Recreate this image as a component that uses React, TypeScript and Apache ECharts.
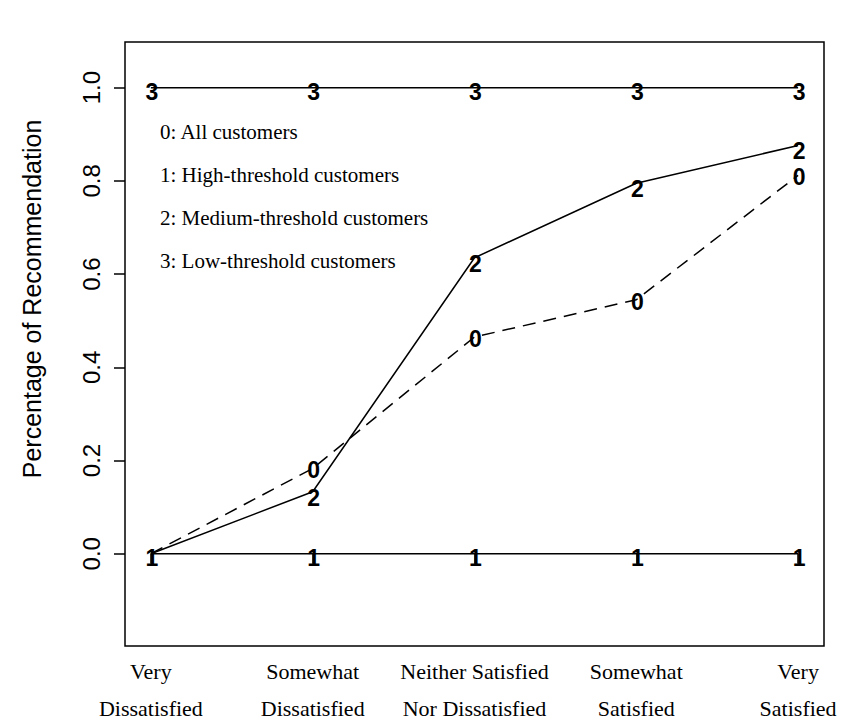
import React, { useEffect, useRef } from "react";
import * as echarts from "echarts";

const categories = [
  "Very\nDissatisfied",
  "Somewhat\nDissatisfied",
  "Neither Satisfied\nNor Dissatisfied",
  "Somewhat\nSatisfied",
  "Very\nSatisfied",
];
const xPositions = [1, 2, 3, 4, 5];
const allCustomers = [0, 0.183, 0.465, 0.545, 0.812];
const highThreshold = [0, 0, 0, 0, 0];
const mediumThreshold = [0, 0.133, 0.635, 0.795, 0.876];
const lowThreshold = [1, 1, 1, 1, 1];
const yTicks = [0, 0.2, 0.4, 0.6, 0.8, 1.0];
const yTitle = "Percentage of Recommendation";
const legendLines = [
  "0: All customers",
  "1: High-threshold customers",
  "2: Medium-threshold customers",
  "3: Low-threshold customers",
];

const SANS = "'Liberation Sans', Arial, Helvetica, sans-serif";
const SERIF = "'Liberation Serif', 'Times New Roman', serif";

function makeSeries(
  name: string,
  values: number[],
  dashed: boolean,
  hideFirstLabel: boolean,
  dy: number
) {
  return {
    type: "line",
    name,
    symbol: "circle",
    symbolSize: 1,
    itemStyle: { color: "rgba(0,0,0,0)" },
    lineStyle: { color: "#000", width: 1.5, type: dashed ? [13, 8] : "solid" },
    label: {
      show: true,
      formatter: name,
      position: "inside",
      offset: [1, dy],
      fontFamily: SANS,
      fontWeight: "bold",
      fontSize: 23,
      lineHeight: 18,
      color: "#000",
    },
    data: values.map((v, i) =>
      hideFirstLabel && i === 0
        ? { value: [xPositions[i], v], label: { show: false } }
        : { value: [xPositions[i], v] }
    ),
    z: 3,
  };
}

export default function App() {
  const ref = useRef<HTMLDivElement>(null);
  useEffect(() => {
    if (!ref.current) return;
    const chart = echarts.init(ref.current, undefined, { renderer: "svg" });
    const option = {
      animation: false,
      backgroundColor: "#fff",
      grid: {
        left: 125,
        right: 33,
        top: 42,
        bottom: 69,
        show: true,
        borderColor: "#000",
        borderWidth: 1.5,
        backgroundColor: "rgba(0,0,0,0)",
        containLabel: false,
      },
      xAxis: {
        type: "value",
        min: 0.84,
        max: 5.16,
        axisLine: { show: false },
        splitLine: { show: false },
        axisTick: {
          show: true,
          customValues: xPositions,
          length: 10,
          lineStyle: { color: "#000", width: 1.5 },
        },
        axisLabel: {
          customValues: xPositions,
          formatter: (v: number) => categories[Math.round(v) - 1] ?? "",
          fontFamily: SERIF,
          fontSize: 22,
          lineHeight: 37,
          color: "#000",
          margin: 7,
        },
      },
      yAxis: {
        type: "value",
        min: -0.198,
        max: 1.098,
        axisLine: { show: false },
        splitLine: { show: false },
        axisTick: {
          show: true,
          customValues: yTicks,
          length: 11,
          lineStyle: { color: "#000", width: 1.5 },
        },
        axisLabel: {
          customValues: yTicks,
          formatter: (v: number) => v.toFixed(1),
          rotate: 90,
          fontFamily: SANS,
          fontSize: 24,
          color: "#000",
          margin: 22,
        },
      },
      graphic: [
        {
          type: "text",
          x: 32,
          y: 299,
          rotation: Math.PI / 2,
          style: {
            text: yTitle,
            fontFamily: SANS,
            fontSize: 25,
            fill: "#000",
            align: "center",
            verticalAlign: "middle",
          },
        },
        ...legendLines.map((t, i) => ({
          type: "text",
          x: 160,
          y: 132 + 43 * i,
          style: {
            text: t,
            fontFamily: SERIF,
            fontSize: 21,
            fill: "#000",
            verticalAlign: "middle",
            align: "left",
          },
        })),
      ],
      series: [
        makeSeries("0", allCustomers, true, true, 2),
        makeSeries("1", highThreshold, false, false, 4),
        makeSeries("2", mediumThreshold, false, true, 6),
        makeSeries("3", lowThreshold, false, false, 4),
      ],
    };
    chart.setOption(option as any);
    return () => chart.dispose();
  }, []);
  return (
    <div
      ref={ref}
      style={{ position: "fixed", left: 0, top: 0, width: 857, height: 727 }}
    />
  );
}
